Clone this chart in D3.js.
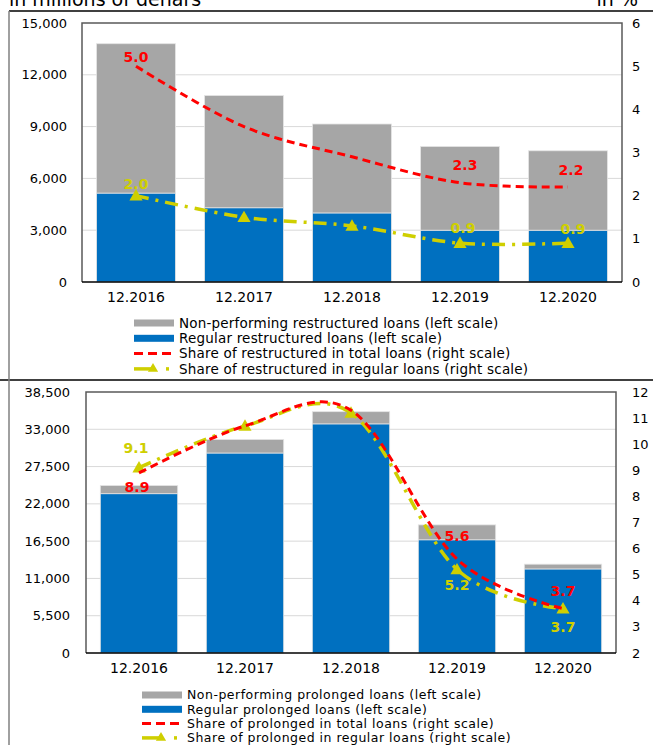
<!DOCTYPE html>
<html>
<head>
<meta charset="utf-8">
<script src="https://cdn.jsdelivr.net/npm/d3@7"></script>
<style>
  body { margin: 0; background: #fff; }
  text { font-family: "DejaVu Sans", Verdana, sans-serif; fill: #000; }
</style>
</head>
<body>
<div id="chart"></div>
<script>
// Data
const years = ['12.2016', '12.2017', '12.2018', '12.2019', '12.2020']

// restructured loans, millions of denars
const restructRegular = [5150, 4300, 4000, 3000, 3000]
const restructNonPerf = [8650, 6500, 5150, 4850, 4600]
const restructShareTotal = [5.0, 3.6, 2.9, 2.3, 2.2]
const restructShareRegular = [2.0, 1.5, 1.3, 0.9, 0.9]
const restructLeftTicks = [0, 3000, 6000, 9000, 12000, 15000]
const restructRightTicks = [0, 1, 2, 3, 4, 5, 6]

// prolonged loans, millions of denars
const prolongRegular = [23500, 29500, 33800, 16700, 12400]
const prolongNonPerf = [1200, 2000, 1800, 2200, 700]
const prolongShareTotal = [8.9, 10.7, 11.3, 5.6, 3.7]
const prolongShareRegular = [9.1, 10.7, 11.2, 5.2, 3.7]
const prolongLeftTicks = [0, 5500, 11000, 16500, 22000, 27500, 33000, 38500]
const prolongRightTicks = [2, 3, 4, 5, 6, 7, 8, 9, 10, 11, 12]

const colors = {
  nonPerf: '#a6a6a6',
  regular: '#0070c0',
  red: '#ff0000',
  yellow: '#cfcf00',
  grid: '#d9d9d9'
}

const svg = d3.select('#chart')
  .append('svg')
  .attr('width', 653)
  .attr('height', 745)

// outer frames
svg.append('line')
  .attr('x1', 9).attr('x2', 653).attr('y1', 11).attr('y2', 11)
  .attr('stroke', '#000').attr('stroke-width', 1.5)
svg.append('line')
  .attr('x1', 0).attr('x2', 653).attr('y1', 380).attr('y2', 380)
  .attr('stroke', '#000').attr('stroke-width', 1.5)
svg.append('line')
  .attr('x1', 9).attr('x2', 9).attr('y1', 11).attr('y2', 745)
  .attr('stroke', '#808080').attr('stroke-width', 1.5)

// unit captions (cut at the top edge, as in the source)
svg.append('text')
  .attr('x', 9).attr('y', 6)
  .style('font-size', '19px')
  .text('in millions of denars')
svg.append('text')
  .attr('x', 638).attr('y', 6)
  .attr('text-anchor', 'end')
  .style('font-size', '19px')
  .text('in  %')

function panel(cfg) {
  const g = svg.append('g')
  const { left, right, top, bottom } = cfg.box

  const xScale = d3.scaleBand()
    .domain(years)
    .range([left, right])
    .paddingInner(0.27)
    .paddingOuter(0.135)

  const yLeft = d3.scaleLinear()
    .domain(d3.extent(cfg.leftTicks))
    .range([bottom, top])

  const yRight = d3.scaleLinear()
    .domain(d3.extent(cfg.rightTicks))
    .range([bottom, top])

  // gridlines
  g.append('g')
    .selectAll('line')
    .data(cfg.leftTicks.slice(1, -1))
    .join('line')
    .attr('x1', left).attr('x2', right)
    .attr('y1', d => yLeft(d)).attr('y2', d => yLeft(d))
    .attr('stroke', colors.grid)

  // stacked bars
  const stackData = years.map((y, i) => ({ year: y, regular: cfg.regular[i], nonPerf: cfg.nonPerf[i] }))
  const series = d3.stack().keys(['regular', 'nonPerf'])(stackData)

  g.append('g')
    .selectAll('g')
    .data(series)
    .join('g')
    .attr('fill', d => colors[d.key])
    .selectAll('rect')
    .data(d => d)
    .join('rect')
    .attr('x', d => xScale(d.data.year))
    .attr('width', xScale.bandwidth())
    .attr('y', d => yLeft(d[1]))
    .attr('height', d => yLeft(d[0]) - yLeft(d[1]))
    .attr('stroke', '#e4e4e4')
    .attr('stroke-width', 0.8)

  // plot frame
  g.append('path')
    .attr('d', `M${left},${bottom}V${top}H${right}V${bottom}`)
    .attr('fill', 'none')
    .attr('stroke', '#595959')
    .attr('stroke-width', 1.5)
  g.append('line')
    .attr('x1', left).attr('x2', right)
    .attr('y1', bottom).attr('y2', bottom)
    .attr('stroke', '#000').attr('stroke-width', 1.5)

  // axes
  const fmt = d3.format(',')
  g.append('g')
    .selectAll('text')
    .data(cfg.leftTicks)
    .join('text')
    .attr('x', cfg.leftLabelX)
    .attr('y', d => yLeft(d))
    .attr('dy', '0.35em')
    .attr('text-anchor', 'end')
    .style('font-size', '13px')
    .text(d => fmt(d))

  g.append('g')
    .selectAll('text')
    .data(cfg.rightTicks)
    .join('text')
    .attr('x', 632)
    .attr('y', d => yRight(d))
    .attr('dy', '0.35em')
    .style('font-size', '13px')
    .text(d => d)

  g.append('g')
    .selectAll('text')
    .data(years)
    .join('text')
    .attr('x', d => xScale(d) + xScale.bandwidth() / 2)
    .attr('y', bottom + 20)
    .attr('text-anchor', 'middle')
    .style('font-size', '14px')
    .text(d => d)

  const cx = i => xScale(years[i]) + xScale.bandwidth() / 2
  const line = d3.line()
    .x((d, i) => cx(i))
    .y(d => yRight(d))
    .curve(d3.curveCardinal)

  // share in regular loans (yellow, dash-dot with triangles)
  g.append('path')
    .datum(cfg.shareRegular)
    .attr('d', line)
    .attr('fill', 'none')
    .attr('stroke', colors.yellow)
    .attr('stroke-width', 3.5)
    .attr('stroke-dasharray', '13 7 3 7')

  g.append('g')
    .selectAll('path')
    .data(cfg.shareRegular)
    .join('path')
    .attr('transform', (d, i) => `translate(${cx(i)},${yRight(d) + 1})`)
    .attr('d', d3.symbol(d3.symbolTriangle, 75))
    .attr('fill', colors.yellow)

  // share in total loans (red dashed)
  g.append('path')
    .datum(cfg.shareTotal)
    .attr('d', line)
    .attr('fill', 'none')
    .attr('stroke', colors.red)
    .attr('stroke-width', 3)
    .attr('stroke-dasharray', '8 5')

  // data labels
  const labels = g.append('g')
    .style('font-size', '14px')
    .style('font-weight', 'bold')
  cfg.redLabels.forEach(l => {
    labels.append('text')
      .attr('x', cx(l.i) + (l.dx || 0))
      .attr('y', yRight(cfg.shareTotal[l.i]) + l.dy)
      .attr('dy', '0.35em')
      .attr('text-anchor', 'middle')
      .style('fill', colors.red)
      .text(d3.format('.1f')(cfg.shareTotal[l.i]))
  })
  cfg.yellowLabels.forEach(l => {
    labels.append('text')
      .attr('x', cx(l.i) + (l.dx || 0))
      .attr('y', yRight(cfg.shareRegular[l.i]) + l.dy)
      .attr('dy', '0.35em')
      .attr('text-anchor', 'middle')
      .style('fill', colors.yellow)
      .text(d3.format('.1f')(cfg.shareRegular[l.i]))
  })

  // legend
  const lg = g.append('g')
    .attr('transform', `translate(${cfg.legend.x},${cfg.legend.y})`)
  const rows = lg.selectAll('g')
    .data(cfg.legend.texts)
    .join('g')
    .attr('transform', (d, i) => `translate(0,${i * cfg.legend.step})`)
  rows.append('text')
    .attr('x', 45)
    .attr('dy', '0.35em')
    .style('font-size', cfg.legend.fontSize)
    .style('letter-spacing', cfg.legend.spacing)
    .text(d => d)

  const sw = i => d3.select(rows.nodes()[i])
  sw(0).append('rect').attr('x', 0).attr('y', -3.5).attr('width', 40).attr('height', 7).attr('fill', colors.nonPerf)
  sw(1).append('rect').attr('x', 0).attr('y', -3.5).attr('width', 40).attr('height', 7).attr('fill', colors.regular)
  sw(2).append('line').attr('x1', 0).attr('x2', 40)
    .attr('stroke', colors.red).attr('stroke-width', 3).attr('stroke-dasharray', '9 5')
  sw(3).append('line').attr('x1', 0).attr('x2', 18)
    .attr('stroke', colors.yellow).attr('stroke-width', 3.5)
  sw(3).append('path')
    .attr('transform', 'translate(19,0)')
    .attr('d', d3.symbol(d3.symbolTriangle, 45))
    .attr('fill', colors.yellow)
  sw(3).append('line').attr('x1', 32).attr('x2', 35)
    .attr('stroke', colors.yellow).attr('stroke-width', 3.5)
}

panel({
  box: { left: 82, right: 622, top: 23, bottom: 282 },
  regular: restructRegular,
  nonPerf: restructNonPerf,
  shareTotal: restructShareTotal,
  shareRegular: restructShareRegular,
  leftTicks: restructLeftTicks,
  rightTicks: restructRightTicks,
  leftLabelX: 67,
  redLabels: [{ i: 0, dy: -9 }, { i: 3, dy: -18, dx: 5 }, { i: 4, dy: -17, dx: 3 }],
  yellowLabels: [{ i: 0, dy: -12 }, { i: 3, dy: -15, dx: 3 }, { i: 4, dy: -14, dx: 5 }],
  legend: {
    x: 134, y: 323, step: 15.3, fontSize: '13.5px', spacing: '0.2px',
    texts: [
      'Non-performing restructured loans (left scale)',
      'Regular restructured loans (left scale)',
      'Share of restructured in total loans (right scale)',
      'Share of restructured in regular loans (right scale)'
    ]
  }
})

panel({
  box: { left: 86, right: 616, top: 392, bottom: 653 },
  regular: prolongRegular,
  nonPerf: prolongNonPerf,
  shareTotal: prolongShareTotal,
  shareRegular: prolongShareRegular,
  leftTicks: prolongLeftTicks,
  rightTicks: prolongRightTicks,
  leftLabelX: 70,
  redLabels: [{ i: 0, dy: 14, dx: -2 }, { i: 3, dy: -23 }, { i: 4, dy: -18 }],
  yellowLabels: [{ i: 0, dy: -20, dx: -3 }, { i: 3, dy: 16 }, { i: 4, dy: 18 }],
  legend: {
    x: 142, y: 695, step: 14.3, fontSize: '12.5px', spacing: '0.5px',
    texts: [
      'Non-performing prolonged loans (left scale)',
      'Regular prolonged loans (left scale)',
      'Share of prolonged in total loans (right scale)',
      'Share of prolonged in regular loans (right scale)'
    ]
  }
})
</script>
</body>
</html>
